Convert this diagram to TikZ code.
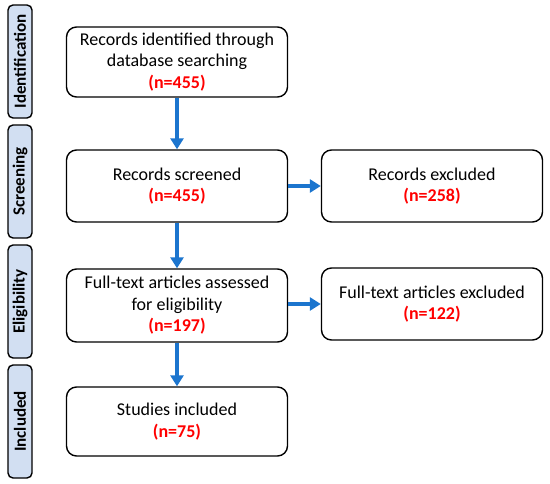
\documentclass[tikz,border=0pt]{standalone}
\usepackage{fontspec}
\setmainfont{Carlito}
\usetikzlibrary{arrows.meta}
\definecolor{arrowblue}{RGB}{28,117,206}
\definecolor{sidefill}{RGB}{210,223,242}
\definecolor{nred}{RGB}{255,0,0}
\newcommand{\nval}[1]{\textcolor{nred}{\textbf{#1}}}
\begin{document}
\begin{tikzpicture}[x=1pt,y=-1pt,
  box/.style={draw=black,line width=1.4pt,rounded corners=10pt,minimum width=221pt,align=center,
     font=\fontsize{18}{21.5}\selectfont,inner sep=0pt},
  side/.style={draw=black,line width=1.4pt,rounded corners=5pt,fill=sidefill,minimum height=24pt,
     inner sep=0pt,rotate=90,font=\fontsize{17}{18}\selectfont\bfseries},
  flow/.style={draw=arrowblue,line width=4pt,-{Triangle[length=11pt,width=13pt]}}]
\useasboundingbox (0,0) rectangle (550,483);
\node[side,minimum width=113pt] (sid) at (20,61.5) {Identification};
\node[side,minimum width=113pt] (ssc) at (20,181.5) {Screening};
\node[side,minimum width=113pt] (sel) at (20,301.5) {Eligibility};
\node[side,minimum width=113pt] (sin) at (20,421.5) {Included};
\node[box,minimum height=70pt] (b1) at (177,62) {Records identified through\\database searching\\\nval{(n=455)}};
\node[box,minimum height=72pt] (b2) at (177,186) {Records screened\\\nval{(n=455)}};
\node[box,minimum height=72pt] (b2r) at (432,186) {Records excluded\\\nval{(n=258)}};
\node[box,minimum height=73pt] (b3) at (177,305.5) {Full-text articles assessed\\for eligibility\\\nval{(n=197)}};
\node[box,minimum height=72pt] (b3r) at (432,304) {Full-text articles excluded\\\nval{(n=122)}};
\node[box,minimum height=69pt] (b4) at (177,421.5) {Studies included\\\nval{(n=75)}};
\draw[flow] (b1.south) -- (b2.north);
\draw[flow] (b2.south) -- (b3.north);
\draw[flow] (b3.south) -- (b4.north);
\draw[flow] (b2.east) -- (b2r.west);
\draw[flow] (b3.east |- b3r.west) -- (b3r.west);
\end{tikzpicture}
\end{document}
